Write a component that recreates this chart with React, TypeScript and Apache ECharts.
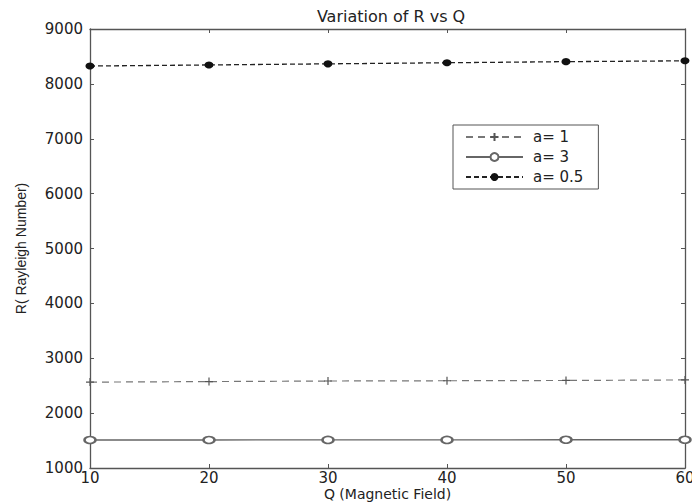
import React, { useEffect, useRef } from "react";
import * as echarts from "echarts";

const qValues = [10, 20, 30, 40, 50, 60];
const seriesA1 = [2565, 2575, 2585, 2590, 2595, 2605];
const seriesA3 = [1510, 1510, 1512, 1512, 1515, 1515];
const seriesA05 = [8325, 8345, 8365, 8385, 8405, 8420];
const seriesNames = ["a= 1", "a= 3", "a= 0.5"];

const FONT = "'DejaVu Sans', Verdana, sans-serif";

export default function App() {
  const ref = useRef<HTMLDivElement>(null);
  useEffect(() => {
    if (!ref.current) return;
    const chart = echarts.init(ref.current, null, { renderer: "svg" });
    const pair = (arr: number[]) => qValues.map((q, i) => [q, arr[i]]);
    const axisLine = { show: true, lineStyle: { color: "#555", width: 1.3 } };
    const tick = { show: true, inside: true, length: 4, lineStyle: { color: "#555" } };
    chart.setOption({
      animation: false,
      backgroundColor: "#fff",
      title: {
        text: "Variation of R vs Q",
        left: 386,
        top: 3,
        textAlign: "center",
        textStyle: { fontFamily: FONT, fontSize: 16, fontWeight: "normal", color: "#222" },
      },
      grid: { left: 90, right: 7, top: 29, bottom: 36, outerBoundsMode: "none", containLabel: false },
      legend: {
        orient: "vertical",
        left: 453,
        top: 125,
        itemWidth: 57,
        itemHeight: 10,
        itemGap: 4,
        padding: [4, 15, 4, 12],
        borderColor: "#555",
        borderWidth: 1,
        backgroundColor: "#fff",
        textStyle: { fontFamily: FONT, fontSize: 15, lineHeight: 16, color: "#222", padding: [0, 0, 0, 5] },
        data: seriesNames,
      },
      xAxis: [
        {
          type: "value",
          min: 10,
          max: 60,
          interval: 10,
          name: "Q (Magnetic Field)",
          nameLocation: "middle",
          nameGap: 19,
          nameMoveOverlap: false,
          nameTextStyle: { fontFamily: FONT, fontSize: 14, color: "#222" },
          axisLine,
          axisTick: tick,
          splitLine: { show: false },
          axisLabel: { fontFamily: FONT, fontSize: 15, color: "#222", margin: 2 },
        },
        {
          type: "value",
          position: "top",
          min: 10,
          max: 60,
          interval: 10,
          axisLine,
          axisTick: tick,
          splitLine: { show: false },
          axisLabel: { show: false },
        },
      ],
      yAxis: [
        {
          type: "value",
          min: 1000,
          max: 9000,
          interval: 1000,
          name: "R( Rayleigh Number)",
          nameLocation: "middle",
          nameGap: 62,
          nameMoveOverlap: false,
          nameTextStyle: {
            fontFamily: "'Liberation Sans Narrow', 'Liberation Sans', sans-serif",
            fontSize: 14,
            color: "#222",
          },
          axisLine,
          axisTick: tick,
          splitLine: { show: false },
          axisLabel: {
            fontFamily: FONT,
            fontSize: 15,
            color: "#222",
            margin: 7,
            formatter: (v: number) => String(v),
          },
        },
        {
          type: "value",
          position: "right",
          min: 1000,
          max: 9000,
          interval: 1000,
          axisLine,
          axisTick: tick,
          splitLine: { show: false },
          axisLabel: { show: false },
        },
      ],
      series: [
        {
          name: seriesNames[0],
          type: "line",
          data: pair(seriesA1),
          symbol: "path://M0,5L10,5M5,0L5,10",
          symbolSize: 8,
          showAllSymbol: true,
          lineStyle: { color: "#777", width: 1.2, type: [7, 5] },
          itemStyle: { color: "#555", borderColor: "#555", borderWidth: 1.2 },
        },
        {
          name: seriesNames[1],
          type: "line",
          data: pair(seriesA3),
          symbol: "emptyCircle",
          symbolSize: [11, 7],
          lineStyle: { color: "#666", width: 1.3, type: "solid" },
          itemStyle: { color: "#666", borderColor: "#666", borderWidth: 1 },
        },
        {
          name: seriesNames[2],
          type: "line",
          data: pair(seriesA05),
          symbol: "circle",
          symbolSize: [9, 7],
          lineStyle: { color: "#222", width: 1.3, type: [5, 3] },
          itemStyle: { color: "#111" },
        },
      ],
    });
    return () => chart.dispose();
  }, []);
  return (
    <div
      ref={ref}
      style={{ position: "fixed", left: 0, top: 0, width: 692, height: 504, background: "#fff" }}
    />
  );
}
